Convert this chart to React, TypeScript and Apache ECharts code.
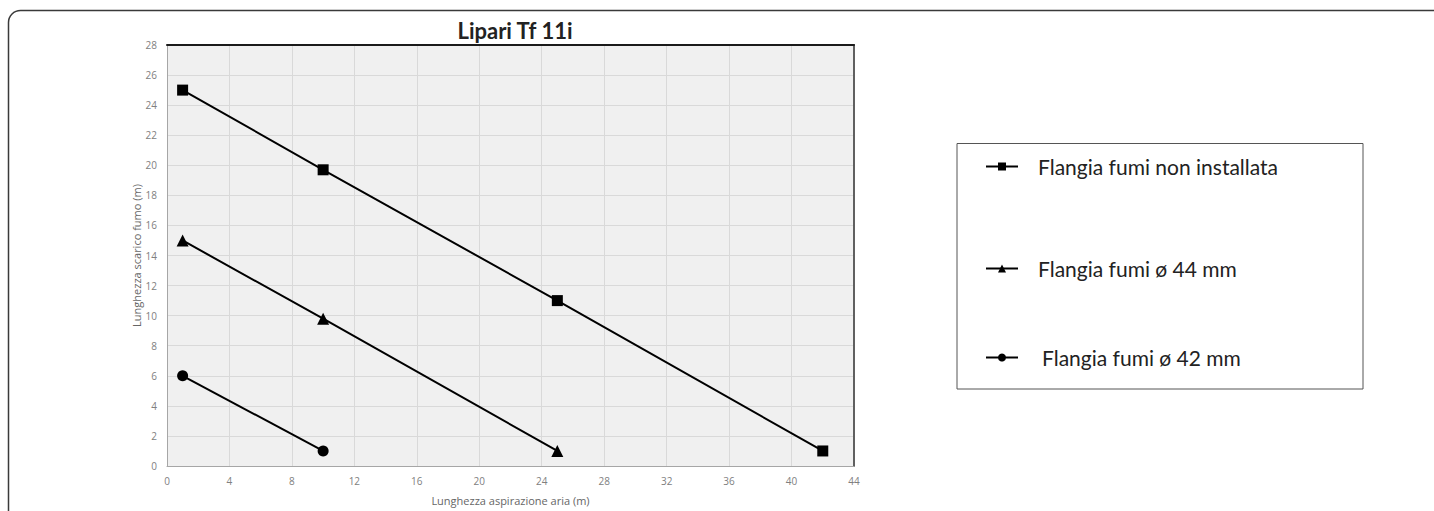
import React, { useEffect, useRef } from "react";
import * as echarts from "echarts";

const seriesNames = [
  "Flangia fumi non installata",
  "Flangia fumi ø 44 mm",
  "Flangia fumi ø 42 mm",
];
const squareX = [1, 10, 25, 42];
const squareY = [25, 19.7, 11, 1];
const triangleX = [1, 10, 25];
const triangleY = [15, 9.8, 1];
const circleX = [1, 10];
const circleY = [6, 1];

const title = "Lipari Tf 11i";
const xName = "Lunghezza aspirazione aria (m)";
const yName = "Lunghezza scarico fumo (m)";

const pairs = (xs: number[], ys: number[]) => xs.map((x, i) => [x, ys[i]]);

export default function App() {
  const ref = useRef<HTMLDivElement>(null);
  useEffect(() => {
    if (!ref.current) return;
    const chart = echarts.init(ref.current, undefined, { renderer: "svg" });
    const labelStyle = { color: "#808080", fontSize: 10, fontFamily: "Open Sans" };
    const legendBase = (pad: number) => ({
      orient: "vertical" as const,
      itemWidth: 32,
      itemHeight: 10,
      textStyle: {
        fontFamily: "Lato",
        fontSize: 21,
        color: "#222",
        padding: [0, 0, 0, pad],
      },
    });
    chart.setOption({
      animation: false,
      title: {
        text: title,
        left: 510,
        textAlign: "center",
        top: 14,
        textStyle: { fontFamily: "Lato", fontWeight: "bold", fontSize: 22, color: "#222" },
      },
      grid: {
        left: 167,
        right: 580,
        top: 45,
        bottom: 45,
        show: true,
        backgroundColor: "#f0f0f0",
        borderWidth: 0,
      },
      legend: [
        { ...legendBase(15), data: [seriesNames[0]], left: 980, top: 151 },
        { ...legendBase(15), data: [seriesNames[1]], left: 980, top: 253 },
        { ...legendBase(19), data: [seriesNames[2]], left: 980, top: 342 },
      ],
      xAxis: [
        {
          type: "value",
          min: 0,
          max: 44,
          interval: 4,
          name: xName,
          nameLocation: "middle",
          nameGap: 29,
          nameTextStyle: { color: "#666", fontSize: 11, fontFamily: "Open Sans" },
          axisLine: { show: true, lineStyle: { color: "#a6a6a6", width: 1 } },
          axisTick: { show: false },
          axisLabel: { ...labelStyle, margin: 10 },
          splitLine: { show: true, lineStyle: { color: "#d9d9d9", width: 1 } },
        },
        {
          type: "value",
          position: "top",
          min: 0,
          max: 44,
          interval: 4,
          axisLine: { show: true, onZero: false, lineStyle: { color: "#1a1a1a", width: 2 } },
          axisTick: { show: false },
          axisLabel: { show: false },
          splitLine: { show: false },
        },
      ],
      yAxis: [
        {
          type: "value",
          min: 0,
          max: 28,
          interval: 2,
          name: yName,
          nameLocation: "middle",
          nameGap: 25,
          nameTextStyle: { color: "#666", fontSize: 11, fontFamily: "Open Sans" },
          axisLine: { show: true, lineStyle: { color: "#a6a6a6", width: 1 } },
          axisTick: { show: false },
          axisLabel: { ...labelStyle, margin: 10 },
          splitLine: { show: true, lineStyle: { color: "#d9d9d9", width: 1 } },
        },
        {
          type: "value",
          position: "right",
          min: 0,
          max: 28,
          interval: 2,
          axisLine: { show: true, onZero: false, lineStyle: { color: "#606060", width: 2 } },
          axisTick: { show: false },
          axisLabel: { show: false },
          splitLine: { show: false },
        },
      ],
      series: [
        {
          name: seriesNames[0],
          type: "line",
          data: pairs(squareX, squareY),
          symbol: "rect",
          symbolSize: 11,
          lineStyle: { color: "#000", width: 2 },
          itemStyle: { color: "#000" },
        },
        {
          name: seriesNames[1],
          type: "line",
          data: pairs(triangleX, triangleY),
          symbol: "triangle",
          symbolSize: 12,
          lineStyle: { color: "#000", width: 2 },
          itemStyle: { color: "#000" },
        },
        {
          name: seriesNames[2],
          type: "line",
          data: pairs(circleX, circleY),
          symbol: "circle",
          symbolSize: 11,
          lineStyle: { color: "#000", width: 2 },
          itemStyle: { color: "#000" },
        },
      ],
      graphic: [
        {
          type: "rect",
          shape: { x: 8.5, y: 10.5, width: 1440, height: 520, r: 12 },
          style: { fill: "none", stroke: "#3a3a3a", lineWidth: 1.5 },
          silent: true,
        },
        {
          type: "rect",
          shape: { x: 957, y: 143.5, width: 406, height: 245.5 },
          style: { fill: "none", stroke: "#555", lineWidth: 1 },
          silent: true,
        },
      ],
    });
    return () => chart.dispose();
  }, []);
  return (
    <div
      ref={ref}
      style={{ position: "fixed", left: 0, top: 0, width: 1434, height: 511, background: "#fff" }}
    />
  );
}
